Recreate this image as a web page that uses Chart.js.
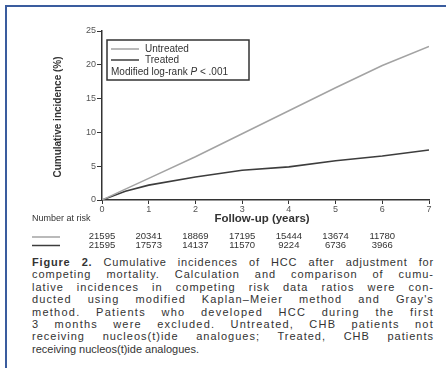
<!DOCTYPE html>
<html>
<head>
<meta charset="utf-8">
<script src="https://cdn.jsdelivr.net/npm/chart.js@4"></script>
<style>
  body { margin: 0; width: 446px; height: 368px; overflow: hidden; background: #fff; position: relative; font-family: "Liberation Sans", Arial, sans-serif; }
  .frame { position: absolute; left: 5px; top: 5px; width: 460px; height: 400px; border: 2px solid #3a5c9e; }
  .chart-box { position: absolute; left: 0; top: 0; width: 446px; height: 255px; }
  .caption { position: absolute; left: 32px; top: 256px; width: 402px; font-size: 11px; line-height: 12.4px; color: #333; }
  .caption div { text-align: justify; text-align-last: justify; white-space: nowrap; }
  .caption div.last { text-align-last: left; }
</style>
</head>
<body>
<div class="frame"></div>
<div class="chart-box"><canvas id="myChart" width="446" height="255"></canvas></div>
<div class="caption" id="caption">
  <div><b>Figure 2.</b> Cumulative incidences of HCC after adjustment for</div>
  <div>competing mortality. Calculation and comparison of cumu-</div>
  <div>lative incidences in competing risk data ratios were con-</div>
  <div>ducted using modified Kaplan–Meier method and Gray's</div>
  <div>method. Patients who developed HCC during the first</div>
  <div>3 months were excluded. Untreated, CHB patients not</div>
  <div>receiving nucleos(t)ide analogues; Treated, CHB patients</div>
  <div class="last">receiving nucleos(t)ide analogues.</div>
</div>
<script>
var years = [0, 0.5, 1, 2, 3, 4, 5, 6, 7];
var untreated = [0, 1.6, 3.2, 6.4, 9.8, 13.2, 16.6, 19.9, 22.7];
var treated = [0, 1.3, 2.2, 3.4, 4.4, 4.9, 5.8, 6.5, 7.4];

var riskYears = [0, 1, 2, 3, 4, 5, 6];
var riskUntreated = [21595, 20341, 18869, 17195, 15444, 13674, 11780];
var riskTreated = [21595, 17573, 14137, 11570, 9224, 6736, 3966];

var untreatedColor = '#a3a3a3';
var treatedColor = '#3d3d3d';
var textColor = '#333';

function toPoints(xs, ys) {
  return xs.map(function (x, i) { return { x: x, y: ys[i] }; });
}

// spread the caption lines like the printed page: part letter spacing, part word spacing
document.querySelectorAll('#caption div').forEach(function (line) {
  if (line.classList.contains('last')) return;
  line.style.textAlign = 'left';
  line.style.textAlignLast = 'left';
  var r = document.createRange();
  r.selectNodeContents(line);
  var natural = r.getBoundingClientRect().width;
  line.style.textAlign = '';
  line.style.textAlignLast = '';
  var extra = 402 - natural;
  var n = line.textContent.length;
  if (extra > 0) line.style.letterSpacing = (extra * 0.45 / n) + 'px';
});

// extra texts: axis titles, legend box, number at risk table
var extras = {
  id: 'extras',
  afterDraw: function (chart) {
    var ctx = chart.ctx;
    var xs = chart.scales.x;
    ctx.save();
    ctx.fillStyle = textColor;
    ctx.textBaseline = 'middle';

    // y title
    ctx.save();
    ctx.translate(58, 117);
    ctx.rotate(-Math.PI / 2);
    ctx.textAlign = 'center';
    ctx.font = 'bold 10px "Liberation Sans", Arial, sans-serif';
    ctx.fillText('Cumulative incidence (%)', 0, 0);
    ctx.restore();

    // x title
    ctx.textAlign = 'center';
    ctx.font = 'bold 11.5px "Liberation Sans", Arial, sans-serif';
    ctx.fillText('Follow-up (years)', 262, 219);

    // number at risk
    ctx.textAlign = 'left';
    ctx.font = '9px "Liberation Sans", Arial, sans-serif';
    ctx.fillText('Number at risk', 32, 219);

    ctx.lineWidth = 1.5;
    ctx.strokeStyle = untreatedColor;
    ctx.beginPath(); ctx.moveTo(32, 237); ctx.lineTo(60, 237); ctx.stroke();
    ctx.strokeStyle = treatedColor;
    ctx.beginPath(); ctx.moveTo(32, 245.5); ctx.lineTo(60, 245.5); ctx.stroke();

    ctx.textAlign = 'center';
    ctx.font = '9.5px "Liberation Sans", Arial, sans-serif';
    riskYears.forEach(function (yr, i) {
      var px = xs.getPixelForValue(yr);
      ctx.fillText(String(riskUntreated[i]), px, 236.5);
      ctx.fillText(String(riskTreated[i]), px, 245);
    });

    // legend box
    ctx.strokeStyle = '#333';
    ctx.lineWidth = 1.5;
    ctx.strokeRect(107, 40, 142, 40);
    ctx.strokeStyle = untreatedColor;
    ctx.beginPath(); ctx.moveTo(111, 49); ctx.lineTo(139, 49); ctx.stroke();
    ctx.strokeStyle = treatedColor;
    ctx.beginPath(); ctx.moveTo(111, 60); ctx.lineTo(139, 60); ctx.stroke();
    ctx.textAlign = 'left';
    ctx.font = '10px "Liberation Sans", Arial, sans-serif';
    ctx.fillText('Untreated', 145, 49);
    ctx.fillText('Treated', 145, 60);
    var a = 'Modified log-rank ';
    ctx.fillText(a, 111, 72.5);
    var w = ctx.measureText(a).width;
    ctx.font = 'italic 10px "Liberation Sans", Arial, sans-serif';
    ctx.fillText('P', 111 + w, 72.5);
    var w2 = ctx.measureText('P').width;
    ctx.font = '10px "Liberation Sans", Arial, sans-serif';
    ctx.fillText(' < .001', 111 + w + w2, 72.5);
    ctx.restore();
  }
};

var data = {
  datasets: [
    {
      label: 'Untreated',
      data: toPoints(years, untreated),
      borderColor: untreatedColor,
      borderWidth: 1.5,
      pointRadius: 0,
      tension: 0
    },
    {
      label: 'Treated',
      data: toPoints(years, treated),
      borderColor: treatedColor,
      borderWidth: 1.6,
      pointRadius: 0,
      tension: 0
    }
  ]
};

var options = {
  responsive: false,
  animation: false,
  layout: { padding: { left: 0, right: 17, top: 31, bottom: 0 } },
  plugins: {
    legend: { display: false },
    tooltip: { enabled: false }
  },
  scales: {
    x: {
      type: 'linear',
      min: 0,
      max: 7,
      ticks: { stepSize: 1, padding: 0, color: '#555', font: { size: 9, family: '"Liberation Sans", Arial, sans-serif' } },
      grid: { drawOnChartArea: false, drawTicks: true, tickLength: 4, color: '#333' },
      border: { display: true, color: '#333', width: 1.5 },
      afterFit: function (s) { s.height = 55; }
    },
    y: {
      min: 0,
      max: 25,
      ticks: { stepSize: 5, padding: 1, color: '#555', font: { size: 9, family: '"Liberation Sans", Arial, sans-serif' } },
      grid: { drawOnChartArea: false, drawTicks: true, tickLength: 5, color: '#333' },
      border: { display: true, color: '#333', width: 1.5 },
      afterFit: function (s) { s.width = 102; }
    }
  }
};

new Chart(document.getElementById('myChart'), {
  type: 'line',
  data: data,
  options: options,
  plugins: [extras]
});
</script>
</body>
</html>
